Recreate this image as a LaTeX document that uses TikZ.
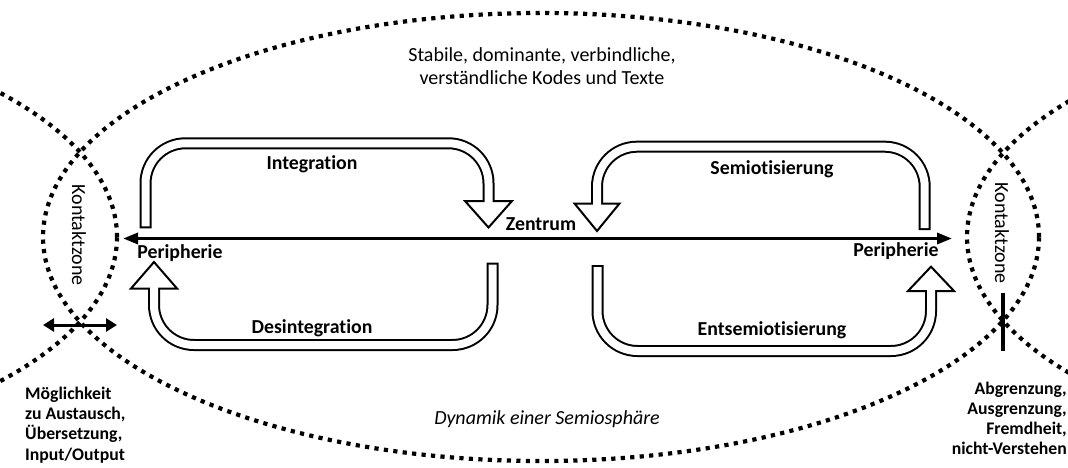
\documentclass[tikz,border=0pt]{standalone}
\usepackage{fontspec}
\setmainfont{Carlito}[Ligatures=NoCommon]
\usetikzlibrary{arrows.meta}
\begin{document}
\begin{tikzpicture}[x=1pt,y=-1pt,
  dots/.style={line width=4.2pt, dash pattern=on 4.2pt off 5.3pt},
  shaftout/.style={line width=12pt, black, rounded corners=40pt},
  shaftin/.style={line width=8pt, white, rounded corners=40pt},
  headst/.style={fill=white, draw=black, line width=2pt, line join=miter},
  lbl/.style={font=\fontsize{19.8}{24}\selectfont\bfseries, inner sep=0pt, anchor=base},
  reg/.style={font=\fontsize{20}{23}\selectfont, inner sep=0pt},
  side/.style={font=\fontsize{17.7}{20.3}\selectfont\bfseries, inner sep=0pt},
  mainarrow/.style={line width=3.3pt, {Triangle[length=15pt,width=11pt]}-{Triangle[length=15pt,width=11pt]}},
  exarrow/.style={line width=3pt, {Triangle[length=11pt,width=13pt]}-{Triangle[length=11pt,width=13pt]}}
]
\useasboundingbox (0,0) rectangle (1068,468);
\clip (0,0) rectangle (1068,468);

% Semiosphere ellipses
\draw[dots] (541,237) ellipse [x radius=498pt, y radius=224pt];
\draw[dots] (-381,237) ellipse [x radius=498pt, y radius=224pt];
\draw[dots] (1465,237) ellipse [x radius=498pt, y radius=224pt];

% named points
\coordinate (pl) at (123,238.5);
\coordinate (pr) at (952,238.5);
\coordinate (exl) at (43,325);
\coordinate (exr) at (117,325);
\coordinate (bart) at (1003,293);
\coordinate (barb) at (1003,351);

% main axis
\draw[mainarrow] (pl) -- (pr);

% Integration
\draw[shaftout] (145.5,228.3) -- (145.5,143.3) -- (488.5,143.3) -- (488.5,201);
\draw[headst] (465,201) -- (512,201) -- (488.5,227.5) -- cycle;
\draw[shaftin] (145.5,226.3) -- (145.5,143.3) -- (488.5,143.3) -- (488.5,204);

% Desintegration
\draw[shaftout] (492.5,262.7) -- (492.5,345) -- (154,345) -- (154,288.5);
\draw[headst] (131,288.5) -- (177,288.5) -- (154,262) -- cycle;
\draw[shaftin] (492.5,264.7) -- (492.5,345) -- (154,345) -- (154,285.5);

% Semiotisierung
\draw[shaftout] (924.7,230) -- (924.7,146.7) -- (597,146.7) -- (597,203.5);
\draw[headst] (574.5,203.5) -- (619.5,203.5) -- (597,231) -- cycle;
\draw[shaftin] (924.7,228) -- (924.7,146.7) -- (597,146.7) -- (597,206.5);

% Entsemiotisierung
\draw[shaftout] (597.5,265) -- (597.5,351) -- (931,351) -- (931,291);
\draw[headst] (908,291) -- (954,291) -- (931,266.7) -- cycle;
\draw[shaftin] (597.5,267) -- (597.5,351) -- (931,351) -- (931,288);

% contact zone markers
\draw[exarrow] (exl) -- (exr);
\draw[line width=4pt] (bart) -- (barb);

% labels
\node[lbl] (integ) at (312,169.5) {Integration};
\node[lbl] (desint) at (312,333.5) {Desintegration};
\node[lbl] (semio) at (772,174) {Semiotisierung};
\node[lbl] (entsem) at (772,335) {Entsemiotisierung};
\node[lbl] (zent) at (541,230) {Zentrum};
\node[lbl] (perl) at (180,258) {Peripherie};
\node[lbl] (perr) at (896,256.7) {Peripherie};

\node[reg, rotate=-90] (kzl) at (79,235) {Kontaktzone};
\node[reg, rotate=-90] (kzr) at (1002,233) {Kontaktzone};

\node[reg, anchor=base] (top) at (542,62)
  {\begin{tabular}[t]{@{}c@{}}Stabile, dominante, verbindliche,\\verständliche Kodes und Texte\end{tabular}};
\node[reg, anchor=base] (dyn) at (547,424) {\itshape Dynamik einer Semiosphäre};

\node[side, anchor=base west] (moegl) at (25,399)
  {\begin{tabular}[t]{@{}l@{}}Möglichkeit\\zu Austausch,\\Übersetzung,\\Input/Output\end{tabular}};
\node[side, anchor=base east] (abgr) at (1067,394)
  {\begin{tabular}[t]{@{}r@{}}Abgrenzung,\\Ausgrenzung,\\Fremdheit,\\nicht-Verstehen\end{tabular}};
\end{tikzpicture}
\end{document}
